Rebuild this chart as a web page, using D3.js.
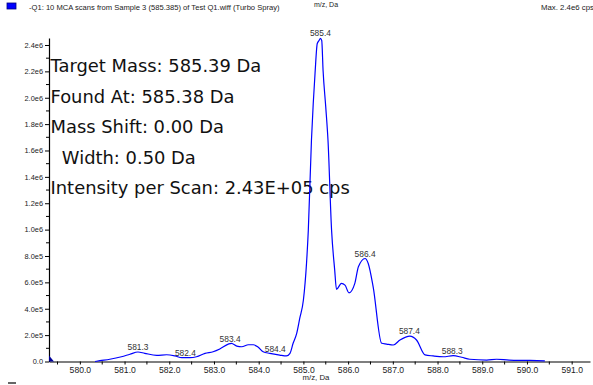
<!DOCTYPE html>
<html>
<head>
<meta charset="utf-8">
<script src="https://cdn.jsdelivr.net/npm/d3@7"></script>
<style>
  html, body { margin: 0; padding: 0; background: #fff; }
  svg { display: block; }
</style>
</head>
<body>
<svg id="chart" width="593" height="385"></svg>
<script>
// Profile spectrum: m/z (Da) and summed intensity (counts)
const mzValues = [
  580.34, 580.45, 580.67, 580.93, 581.12, 581.30, 581.45, 581.72, 581.94, 582.13,
  582.28, 582.46, 582.61, 582.80, 582.98, 583.13, 583.32, 583.39, 583.51, 583.62,
  583.77, 583.88, 583.99, 584.10, 584.25, 584.47, 584.62, 584.70, 584.77, 584.85,
  584.92, 585.00, 585.07, 585.11, 585.18, 585.22, 585.26, 585.31, 585.35, 585.38,
  585.41, 585.44, 585.50, 585.55, 585.63, 585.70, 585.74, 585.85, 585.93, 586.02,
  586.15, 586.23, 586.38, 586.45, 586.56, 586.75, 586.86, 587.01, 587.16, 587.38,
  587.53, 587.72, 587.90, 588.13, 588.35, 588.54, 588.72, 589.10, 589.32, 589.60,
  590.07, 590.40
];
const intensityValues = [
  0, 6000, 17000, 36000, 55000, 72000, 62000, 47000, 51000, 42000,
  29000, 29000, 36000, 62000, 74000, 95000, 132000, 138000, 117000, 112000,
  127000, 127000, 108000, 74000, 62000, 49000, 42000, 62000, 138000, 213000,
  330000, 466000, 746000, 996000, 1677000, 1957000, 2184000, 2411000, 2434000, 2450000,
  2434000, 2207000, 1929000, 1677000, 996000, 693000, 547000, 592000, 579000, 521000,
  592000, 718000, 781000, 743000, 566000, 138000, 132000, 125000, 163000, 193000,
  163000, 50000, 42000, 36000, 44000, 32000, 17000, 11000, 17000, 11000,
  8000, 4000
];

// Centroid labels (m/z of each labelled peak)
const peakMz = [581.30, 582.36, 583.36, 584.37, 585.38, 586.38, 587.37, 588.33];

// Axis ticks
const xTickValues = [580, 581, 582, 583, 584, 585, 586, 587, 588, 589, 590, 591];
const yTickValues = [0, 2e5, 4e5, 6e5, 8e5, 1.0e6, 1.2e6, 1.4e6, 1.6e6, 1.8e6, 2.0e6, 2.2e6, 2.4e6];
const yTickLabels = ["0.0", "2.0e5", "4.0e5", "6.0e5", "8.0e5", "1.0e6", "1.2e6", "1.4e6", "1.6e6", "1.8e6", "2.0e6", "2.2e6", "2.4e6"];

// Result box text
const infoLines = [
  "Target Mass: 585.39 Da",
  "Found At: 585.38 Da",
  "Mass Shift: 0.00 Da",
  "  Width: 0.50 Da",
  "Intensity per Scan: 2.43E+05 cps"
];

const titleText = "-Q1: 10 MCA scans from Sample 3 (585.385) of Test Q1.wiff (Turbo Spray)";
const maxText = "Max. 2.4e6 cps";
const axisTitle = "m/z, Da";

const svg = d3.select("#chart");
const smallFont = "'Liberation Sans', Arial, sans-serif";

const x = d3.scaleLinear().domain([579.31, 591.41]).range([49, 590]);
const y = d3.scaleLinear().domain([0, 2.453e6]).range([361.5, 38]);

// Header
svg.append("rect")
  .attr("x", 7).attr("y", 3).attr("width", 9).attr("height", 6)
  .attr("fill", "#0000ff").attr("stroke", "#000080").attr("stroke-width", 0.8);
svg.append("text")
  .attr("x", 29).attr("y", 10)
  .attr("font-family", smallFont).attr("font-size", 7.6).attr("fill", "#222")
  .text(titleText);
svg.append("text")
  .attr("x", 541).attr("y", 10)
  .attr("font-family", smallFont).attr("font-size", 7.8).attr("fill", "#222")
  .text(maxText);
svg.append("text")
  .attr("x", 326).attr("y", 6.5).attr("text-anchor", "middle")
  .attr("font-family", smallFont).attr("font-size", 7).attr("fill", "#222")
  .text(axisTitle);

// Result text block
const info = svg.append("g")
  .attr("font-family", "'DejaVu Sans', Verdana, sans-serif")
  .attr("font-size", 17.9)
  .attr("fill", "#111");
info.selectAll("text").data(infoLines).join("text")
  .attr("x", 50.5)
  .attr("y", (d, i) => 72 + i * 30.6)
  .attr("xml:space", "preserve")
  .style("white-space", "pre")
  .text(d => d);

// X axis
const xAxis = d3.axisBottom(x)
  .tickValues(xTickValues)
  .tickFormat(d3.format(".1f"))
  .tickSize(3).tickSizeOuter(0);
const gx = svg.append("g").attr("transform", `translate(0,${y(0)})`).call(xAxis);
gx.select(".domain").attr("stroke", "#000").attr("stroke-width", 1.2);
gx.selectAll(".tick line").attr("stroke", "#000");
gx.selectAll(".tick text")
  .attr("font-family", smallFont).attr("font-size", 8.6).attr("fill", "#222")
  .attr("dy", "0.71em").attr("y", 5);
// half-Da minor ticks
gx.selectAll(".minor").data(d3.range(579.5, 591.01, 1)).join("line")
  .attr("class", "minor")
  .attr("x1", d => x(d)).attr("x2", d => x(d))
  .attr("y1", 0).attr("y2", 3).attr("stroke", "#000");

svg.append("text")
  .attr("x", 316).attr("y", 380).attr("text-anchor", "middle")
  .attr("font-family", smallFont).attr("font-size", 7.8).attr("fill", "#222")
  .text(axisTitle);

// Y axis
const yAxis = d3.axisLeft(y)
  .tickValues(yTickValues)
  .tickFormat((d, i) => yTickLabels[i])
  .tickSize(4).tickSizeOuter(0);
const gy = svg.append("g").attr("transform", `translate(${x.range()[0]},0)`).call(yAxis);
gy.select(".domain").attr("stroke", "#000").attr("stroke-width", 1.2);
gy.selectAll(".tick line").attr("stroke", "#000");
gy.selectAll(".tick text")
  .attr("font-family", smallFont).attr("font-size", 7.4).attr("fill", "#222")
  .attr("x", -6);
gy.selectAll(".minor").data(d3.range(1e5, 2.45e6, 2e5)).join("line")
  .attr("class", "minor")
  .attr("x1", -3).attr("x2", 0)
  .attr("y1", d => y(d)).attr("y2", d => y(d)).attr("stroke", "#000");

// Origin marker
svg.append("path")
  .attr("d", `M${x.range()[0]},${y(0) - 6}L${x.range()[0] + 5},${y(0)}L${x.range()[0]},${y(0)}Z`)
  .attr("fill", "#000099");

// Spectrum trace
const points = mzValues.map((m, i) => [m, intensityValues[i]]);
const line = d3.line()
  .x(d => x(d[0]))
  .y(d => y(d[1]))
  .curve(d3.curveMonotoneX);
svg.append("path")
  .datum(points)
  .attr("d", line)
  .attr("fill", "none")
  .attr("stroke", "#0000ff")
  .attr("stroke-width", 1.2)
  .attr("stroke-linejoin", "round");

// Peak labels, placed on the trace at each labelled m/z
const interp = m => {
  const i = d3.bisectRight(mzValues, m);
  if (i <= 0) return intensityValues[0];
  if (i >= mzValues.length) return intensityValues[mzValues.length - 1];
  const t = (m - mzValues[i - 1]) / (mzValues[i] - mzValues[i - 1]);
  return intensityValues[i - 1] + t * (intensityValues[i] - intensityValues[i - 1]);
};
svg.append("g")
  .attr("font-family", smallFont).attr("font-size", 8.4).attr("fill", "#333")
  .attr("text-anchor", "middle")
  .selectAll("text").data(peakMz).join("text")
  .attr("x", d => x(d))
  .attr("y", d => y(interp(d)) - 2)
  .text(d => d.toFixed(1));

// Small mark in the lower left corner
svg.append("line")
  .attr("x1", 8).attr("x2", 16).attr("y1", 383).attr("y2", 383)
  .attr("stroke", "#333").attr("stroke-width", 1.5);
</script>
</body>
</html>
